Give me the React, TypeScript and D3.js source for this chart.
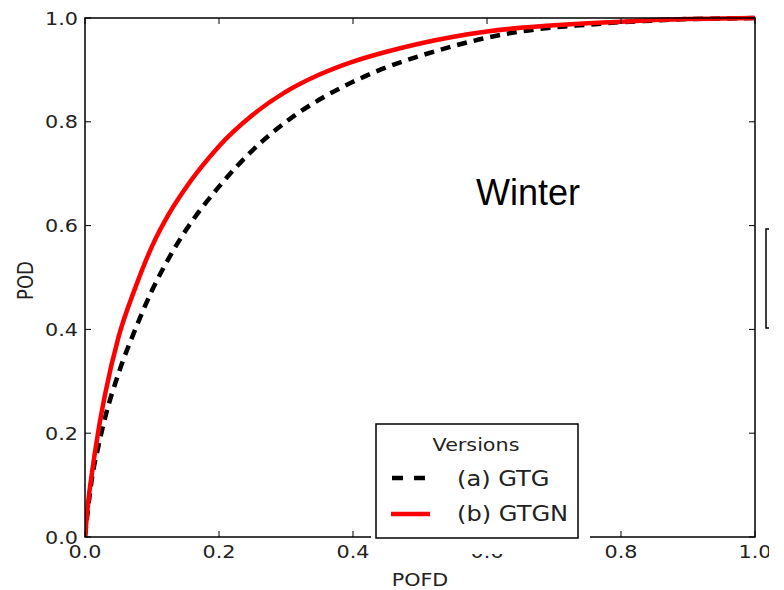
import React from "react";
import * as d3 from "d3";

const pofd = [0, 0.005, 0.01, 0.02, 0.03, 0.05, 0.075, 0.1, 0.125, 0.15, 0.175, 0.2, 0.25, 0.3, 0.35, 0.4, 0.45, 0.5, 0.55, 0.6, 0.65, 0.7, 0.75, 0.8, 0.85, 0.9, 0.95, 1.0];
const podGTG = [0, 0.06, 0.11, 0.175, 0.23, 0.315, 0.40, 0.475, 0.537, 0.59, 0.635, 0.675, 0.745, 0.80, 0.843, 0.877, 0.905, 0.927, 0.946, 0.962, 0.974, 0.982, 0.987, 0.992, 0.995, 0.998, 0.999, 1.0];
const podGTGN = [0, 0.07, 0.12, 0.205, 0.275, 0.385, 0.48, 0.56, 0.622, 0.672, 0.715, 0.753, 0.813, 0.858, 0.891, 0.916, 0.935, 0.951, 0.964, 0.974, 0.981, 0.986, 0.990, 0.993, 0.996, 0.998, 0.999, 1.0];
const ticks = [0, 0.2, 0.4, 0.6, 0.8, 1.0];
const tickLabels = ["0.0", "0.2", "0.4", "0.6", "0.8", "1.0"];
const seriesNames = ["(a) GTG", "(b) GTGN"];
const legendTitle = "Versions";
const panelTitle = "Winter";
const xLabel = "POFD";
const yLabel = "POD";

const L = 85, R = 755, T = 18, B = 537;
const SX = 1.15;
const FONT = "DejaVu Sans, sans-serif";

export default function App() {
  const x = d3.scaleLinear().domain([0, 1]).range([L, R]);
  const y = d3.scaleLinear().domain([0, 1]).range([B, T]);
  const line = d3
    .line<number>()
    .x((_, i) => x(pofd[i]))
    .y((d) => y(d))
    .curve(d3.curveMonotoneX);

  const st = (tx: number, ty: number) => `translate(${tx},${ty}) scale(${SX},1)`;

  return (
    <svg width={784} height={590} style={{ position: "absolute", left: 0, top: 0, background: "#fff" }}>
      <rect x={0} y={0} width={784} height={590} fill="#fff" />
      <defs>
        <clipPath id="plot">
          <rect x={L} y={T - 3} width={R - L + 3} height={B - T + 3} />
        </clipPath>
      </defs>
      {/* curves */}
      <g clipPath="url(#plot)">
        <path d={line(podGTG) || ""} fill="none" stroke="#000" strokeWidth={4.5} strokeDasharray="10,7" />
        <path d={line(podGTGN) || ""} fill="none" stroke="#ff0000" strokeWidth={4.5} />
      </g>
      {/* ticks */}
      {ticks.map((t, i) => (
        <g key={"t" + i} stroke="#000" strokeWidth={1}>
          <line x1={x(t)} x2={x(t)} y1={B} y2={B - 6} />
          <line x1={x(t)} x2={x(t)} y1={T} y2={T + 6} />
          <line x1={L} x2={L + 6} y1={y(t)} y2={y(t)} />
          <line x1={R} x2={R - 6} y1={y(t)} y2={y(t)} />
        </g>
      ))}
      {/* frame */}
      <rect x={L} y={T} width={R - L} height={B - T} fill="none" stroke="#000" strokeWidth={1.5} />
      {/* tick labels */}
      {ticks.map((t, i) => (
        <text key={"xl" + i} transform={st(x(t), 558)} textAnchor="middle" fontFamily={FONT} fontSize={18} fill="#222">
          {tickLabels[i]}
        </text>
      ))}
      {ticks.map((t, i) => (
        <text key={"yl" + i} transform={st(78, y(t) + 6.5)} textAnchor="end" fontFamily={FONT} fontSize={18} fill="#222">
          {tickLabels[i]}
        </text>
      ))}
      {/* axis labels */}
      <text transform={st(420, 586)} textAnchor="middle" fontFamily={FONT} fontSize={18} fill="#222">
        {xLabel}
      </text>
      <text transform={`translate(33,${(T + B) / 2 + 3}) scale(${SX},1) rotate(-90)`} textAnchor="middle" fontFamily={FONT} fontSize={18} fill="#222">
        {yLabel}
      </text>
      {/* panel title */}
      <text x={476} y={205} fontFamily="Liberation Sans, Arial, sans-serif" fontSize={36} fill="#000">
        {panelTitle}
      </text>
      {/* legend */}
      <rect x={371} y={416} width={219} height={138} fill="#fff" />
      <rect x={376} y={424} width={202} height={114} fill="#fff" stroke="#000" strokeWidth={1.5} />
      <text transform={st(476, 451)} textAnchor="middle" fontFamily={FONT} fontSize={18} fill="#222">
        {legendTitle}
      </text>
      <line x1={392} x2={426} y1={478} y2={478} stroke="#000" strokeWidth={4.5} strokeDasharray="11,11" />
      <line x1={391} x2={430} y1={514} y2={514} stroke="#ff0000" strokeWidth={4.5} />
      <text transform={st(457, 486)} fontFamily={FONT} fontSize={21} fill="#222">
        {seriesNames[0]}
      </text>
      <text transform={st(457, 521)} fontFamily={FONT} fontSize={21} fill="#222">
        {seriesNames[1]}
      </text>
      {/* clipped neighbour panel edge */}
      <rect x={769} y={0} width={15} height={590} fill="#fff" />
      <path d="M769,229 H766 V328 H769" fill="none" stroke="#000" strokeWidth={1.5} />
    </svg>
  );
}
